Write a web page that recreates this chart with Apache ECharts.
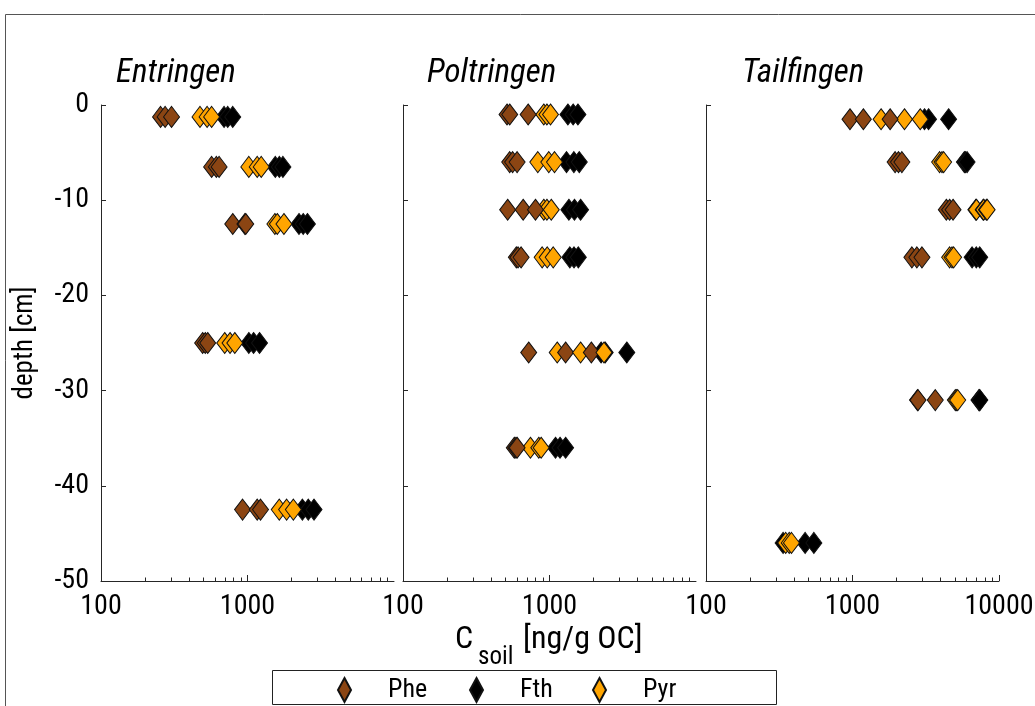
<!DOCTYPE html>
<html>
<head>
<meta charset="utf-8">
<script src="https://cdn.jsdelivr.net/npm/echarts@6/dist/echarts.min.js"></script>
<style>
  html, body { margin: 0; padding: 0; background: #fff; }
  #chart { width: 1035px; height: 706px; }
</style>
</head>
<body>
<div id="chart"></div>
<script>
// Site names and compound names
const sites = ['Entringen', 'Poltringen', 'Tailfingen'];
const compounds = ['Phe', 'Fth', 'Pyr'];

// Minor tick positions on the log concentration axis
const xMinorTicks = [200, 300, 400, 500, 600, 700, 800, 900, 2000, 3000, 4000, 5000, 6000, 7000, 8000, 9000];

// Entringen: sample depths [cm] and three replicate concentrations per depth [ng/g OC]
const entringenDepth = [-1.25, -6.5, -12.5, -25, -42.5];
const entringenPhe = [[255, 274, 303], [569, 613, 640], [793, 960, 973], [494, 515, 535], [925, 1165, 1227]];
const entringenFth = [[692, 733, 793], [1548, 1650, 1745], [2246, 2400, 2564], [1021, 1100, 1208], [2370, 2600, 2845]];
const entringenPyr = [[474, 530, 569], [1021, 1165, 1241], [1538, 1597, 1773], [699, 760, 819], [1648, 1849, 2056]];

// Poltringen
const poltringenDepth = [-1, -6, -11, -16, -26, -36];
const poltringenPhe = [[513, 535, 715], [535, 560, 601], [518, 661, 802], [594, 610, 640], [721, 1288, 1930], [575, 590, 601]];
const poltringenFth = [[1335, 1450, 1563], [1307, 1467, 1597], [1356, 1480, 1630], [1377, 1470, 1573], [2250, 2400, 3370], [1099, 1180, 1288]];
const poltringenPyr = [[914, 960, 1016], [832, 989, 1082], [914, 960, 1028], [891, 965, 1060], [1129, 1630, 2355], [741, 845, 877]];

// Tailfingen (Phe not detected at the deepest sample)
const tailfingenDepth = [-1.5, -6, -11, -16, -31, -46];
const tailfingenPhe = [[961, 1186, 1806], [1954, 2060, 2173], [4370, 4600, 4856], [2543, 2750, 2979], [2779, 2800, 3673], [null, null, null]];
const tailfingenFth = [[3100, 3305, 4529], [5806, 5900, 6055], [6950, 7800, 8200], [6551, 7000, 7388], [7300, 7350, 7400], [336, 475, 545]];
const tailfingenPyr = [[1567, 2264, 2899], [3933, 4083, 4188], [7015, 7870, 8300], [4603, 4780, 4900], [5036, 5130, 5225], [350, 370, 383]];

const siteData = [
  { depth: entringenDepth, Phe: entringenPhe, Fth: entringenFth, Pyr: entringenPyr },
  { depth: poltringenDepth, Phe: poltringenPhe, Fth: poltringenFth, Pyr: poltringenPyr },
  { depth: tailfingenDepth, Phe: tailfingenPhe, Fth: tailfingenFth, Pyr: tailfingenPyr }
];

const FONT = "'Roboto Condensed', 'DejaVu Sans Condensed', sans-serif";
const AXIS_COLOR = '#262626';
const colors = { Phe: '#8B4513', Fth: '#000000', Pyr: '#FFA500' };

const gridLefts = [101, 403, 706];
const GRID_TOP = 105, GRID_H = 476, GRID_W = 293;

const grids = gridLefts.map(l => ({
  left: l, top: GRID_TOP, width: GRID_W, height: GRID_H,
  outerBoundsMode: 'none', containLabel: false
}));

// Main log axes (decade ticks + labels) followed by overlay axes that carry the minor ticks
const xAxes = [];
gridLefts.forEach((l, i) => {
  xAxes.push({
    type: 'log', logBase: 10, min: 100, max: 10000, gridIndex: i, position: 'bottom',
    axisLine: { show: true, onZero: false, lineStyle: { color: AXIS_COLOR, width: 1 } },
    axisTick: { show: true, inside: true, length: 6, lineStyle: { color: AXIS_COLOR } },
    axisLabel: { show: true, showMaxLabel: i === 2, margin: 12, fontSize: 28, fontFamily: FONT,
      color: '#000', formatter: v => String(Math.round(v)) },
    splitLine: { show: false }
  });
});
gridLefts.forEach((l, i) => {
  xAxes.push({
    type: 'log', logBase: 10, min: 100, max: 10000, gridIndex: i, position: 'bottom',
    axisLine: { show: false, onZero: false },
    axisTick: { show: true, inside: true, length: 3.5, customValues: xMinorTicks,
      lineStyle: { color: AXIS_COLOR } },
    axisLabel: { show: false }, splitLine: { show: false }
  });
});

const yAxes = gridLefts.map((l, i) => ({
  type: 'value', min: -50, max: 0, interval: 10, gridIndex: i,
  axisLine: { show: true, onZero: false, lineStyle: { color: AXIS_COLOR, width: 1 } },
  axisTick: { show: true, inside: true, length: 5, lineStyle: { color: AXIS_COLOR } },
  axisLabel: { show: i === 0, margin: 12, fontSize: 28, fontFamily: FONT, color: '#000' },
  splitLine: { show: false },
  name: i === 0 ? 'depth [cm]' : '', nameLocation: 'middle', nameRotate: 90, nameGap: 62,
  nameTextStyle: { fontSize: 27, fontFamily: FONT, color: '#000' }
}));

// One series per site, replicate and compound so that the replicates are layered in order
const series = [];
siteData.forEach((site, s) => {
  for (let r = 0; r < 3; r++) {
    compounds.forEach(c => {
      const data = [];
      site.depth.forEach((d, k) => {
        const v = site[c][k][r];
        if (v != null) data.push([v, d]);
      });
      series.push({
        type: 'scatter', name: c, xAxisIndex: s, yAxisIndex: s,
        symbol: 'diamond', symbolSize: [16, 21],
        itemStyle: { color: colors[c], borderColor: '#111', borderWidth: 1, opacity: 1 },
        emphasis: { disabled: true },
        data: data
      });
    });
  }
});

const titleStyle = { fontSize: 33, fontStyle: 'italic', fontWeight: 'normal', fontFamily: FONT, color: '#000' };

const legendLefts = [337, 469, 592];
const legends = compounds.map((c, i) => ({
  data: [c], left: legendLefts[i], top: 677, padding: 0, orient: 'horizontal',
  icon: 'diamond', itemWidth: 13, itemHeight: 24, selectedMode: false,
  formatter: n => '{g|}' + n,
  textStyle: { fontSize: 26, fontFamily: FONT, color: '#000', rich: { g: { width: 32 } } }
}));

const option = {
  animation: false,
  backgroundColor: '#fff',
  grid: grids,
  xAxis: xAxes,
  yAxis: yAxes,
  title: sites.map((name, i) => ({
    text: name, left: [116, 427, 742][i], top: 57, padding: 0, textStyle: titleStyle
  })),
  legend: legends,
  graphic: [
    { type: 'rect', shape: { x: 5.5, y: 14.5, width: 1100, height: 800 },
      style: { fill: 'none', stroke: '#555', lineWidth: 1 }, silent: true, z: -1 },
    { type: 'rect', shape: { x: 272.5, y: 670.5, width: 504, height: 34 },
      style: { fill: '#fff', stroke: '#222', lineWidth: 1 }, silent: true, z: 0 },
    { type: 'text', left: 455, top: 624, silent: true,
      style: { text: 'C', fontSize: 32, fontFamily: FONT, fill: '#000' } },
    { type: 'text', left: 478, top: 645, silent: true,
      style: { text: 'soil', fontSize: 25, fontFamily: FONT, fill: '#000' } },
    { type: 'text', left: 523, top: 624, silent: true,
      style: { text: '[ng/g OC]', fontSize: 32, fontFamily: FONT, fill: '#000' } }
  ],
  series: series
};

const chart = echarts.init(document.getElementById('chart'), null, { renderer: 'canvas' });
chart.setOption(option);
</script>
</body>
</html>
